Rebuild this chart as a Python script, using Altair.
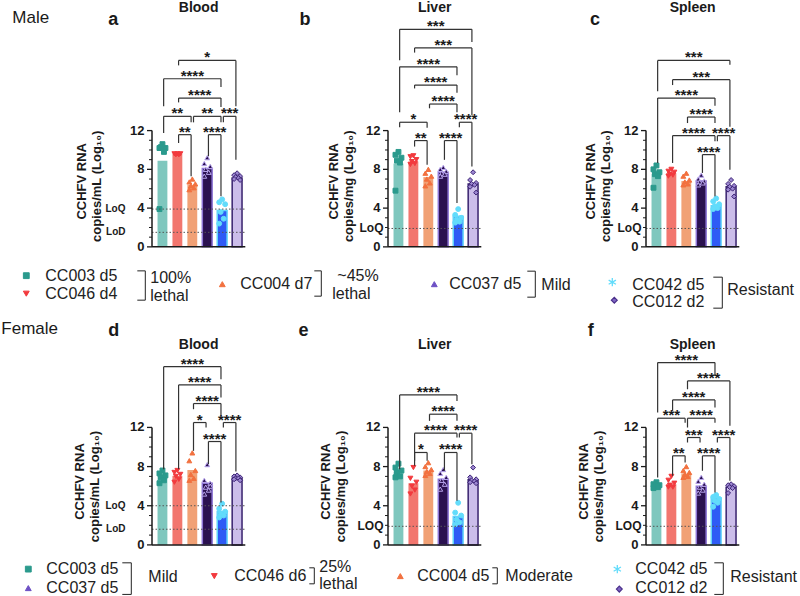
import altair as alt
import pandas as pd

FONT = "Liberation Sans"
INK = "#1a1a1a"

# ---------------- strains, in bar order ----------------
strains = ["CC003", "CC046", "CC004", "CC037", "CC042", "CC012"]
bar_fill = ["#7fc7be", "#f2766e", "#f1a175", "#2a1150", "#2e5bf5", "#cbbdea"]
bar_edge = ["#7fc7be", "#f2766e", "#f1a175", "#8e76d6", "#62d4fa", "#38226e"]
bar_sw = [0, 0, 0, 1.5, 1.5, 1.5]
pt_fill = ["#2b9a8d", "#f23a3e", "#f2713f", "#2a1150", "#62dcfb", "#9b86d0"]
pt_edge = ["#2b9a8d", "#f23a3e", "#f2713f", "#b9a6ee", "#62dcfb", "#3d2476"]
pt_shape = ["square", "triangle-down", "triangle-up", "triangle-up", "circle", "diamond"]
ASTERISK = "M0,-1L0,1M-0.87,-0.5L0.87,0.5M-0.87,0.5L0.87,-0.5"

# ---------------- group means (log10 copies) ----------------
mean_a = [8.9, 9.6, 6.4, 8.1, 3.75, 7.1]
mean_b = [8.6, 8.8, 7.2, 7.7, 3.15, 6.5]
mean_c = [7.55, 7.6, 6.8, 6.8, 4.25, 6.2]
mean_d = [7.05, 7.05, 7.65, 6.3, 3.4, 6.8]
mean_e = [7.5, 6.3, 7.6, 6.7, 2.9, 6.65]
mean_f = [6.0, 6.2, 7.3, 6.0, 4.8, 5.9]

# ---------------- individual animals ----------------
pts_a = [[10.6, 10.2, 10.2, 10.3, 9.8, 3.9], [9.6, 9.6, 9.6, 9.5, 9.5],
         [7.0, 6.7, 6.5, 6.3, 6.1, 5.9], [9.2, 8.6, 8.3, 8.0, 7.7, 7.3],
         [4.9, 4.6, 4.4, 3.6, 2.9, 2.4], [7.6, 7.4, 7.3, 7.2, 7.1, 7.0, 6.9]]
pts_b = [[9.8, 9.5, 9.2, 8.9, 8.7, 5.8], [9.4, 9.3, 9.0, 8.8, 8.6, 8.5],
         [8.0, 7.6, 7.3, 7.0, 6.6, 6.3], [8.2, 8.0, 7.8, 7.6, 7.5, 7.3],
         [3.9, 3.3, 3.0, 2.8, 2.6, 2.5], [7.7, 6.9, 6.6, 6.5, 6.4, 6.2, 5.6]]
pts_c = [[8.4, 8.0, 7.7, 7.5, 7.3, 6.1], [8.0, 7.8, 7.7, 7.5, 7.4, 7.3],
         [7.6, 7.3, 6.9, 6.7, 6.5, 6.4], [7.4, 7.0, 6.8, 6.7, 6.6, 6.4],
         [5.0, 4.7, 4.4, 4.2, 4.0, 3.9], [6.9, 6.5, 6.3, 6.2, 6.0, 5.9, 5.2]]
pts_d = [[7.6, 7.3, 7.1, 6.9, 6.6, 6.3], [7.6, 7.4, 7.2, 7.0, 6.7, 6.4],
         [9.4, 8.6, 7.6, 7.2, 6.8, 6.6], [8.2, 6.6, 6.3, 5.9, 5.6, 5.2, 6.0],
         [4.2, 3.7, 3.4, 3.2, 3.0, 2.8], [7.1, 7.0, 6.9, 6.8, 6.8, 6.7, 6.6]]
pts_e = [[8.3, 7.9, 7.6, 7.4, 7.0, 6.9], [7.9, 6.8, 6.4, 6.0, 5.6, 5.2],
         [8.4, 8.0, 7.7, 7.5, 7.3, 7.1], [7.7, 7.3, 6.9, 6.6, 6.2, 5.7],
         [4.3, 3.3, 3.0, 2.6, 2.3, 2.1], [7.9, 6.9, 6.7, 6.6, 6.5, 6.4, 6.3]]
pts_f = [[6.4, 6.2, 6.1, 6.0, 5.9, 5.8], [7.0, 6.6, 6.3, 6.1, 5.9, 5.9],
         [8.0, 7.6, 7.4, 7.2, 7.0, 6.9], [6.9, 6.5, 6.2, 5.9, 5.6, 5.3],
         [5.1, 4.9, 4.7, 4.5, 4.3, 3.9], [6.2, 6.1, 6.0, 5.9, 5.8, 5.3]]

# ---------------- significance brackets ----------------
# (from group, to group, bar height, left leg end, right leg end, label)
br_a = [(1, 5, 19.24, 18.73, 14.50, "*"), (0, 4, 17.35, 14.50, 16.49, "****"),
        (1, 4, 15.36, 14.91, 14.43, "****"), (0, 2, 13.47, 11.75, 12.85, "**"),
        (2, 4, 13.47, 12.85, 12.85, "**"), (4, 5, 13.47, 12.85, 9.0, "***"),
        (1, 2, 11.58, 10.72, 7.29, "**"), (3, 4, 11.58, 9.35, 5.22, "****")]
br_b = [(0, 5, 22.45, 19.27, 21.15, "***"), (1, 5, 20.53, 20.05, 13.61, "***"),
        (0, 4, 18.58, 13.90, 17.72, "****"), (1, 4, 16.70, 16.35, 15.90, "****"),
        (2, 4, 14.74, 14.30, 13.90, "****"), (0, 2, 12.86, 12.34, 12.30, "*"),
        (4, 5, 12.86, 12.34, 8.30, "****"), (1, 2, 10.97, 10.35, 8.47, "**"),
        (3, 4, 10.97, 8.98, 4.53, "****")]
br_c = [(0, 5, 19.24, 16.05, 18.80, "***"), (1, 5, 17.25, 16.70, 12.40, "***"),
        (0, 4, 15.36, 8.66, 14.57, "****"), (2, 4, 13.40, 12.78, 12.78, "****"),
        (1, 4, 11.48, 8.66, 10.90, "****"), (4, 5, 11.48, 10.90, 7.97, "****"),
        (3, 4, 9.52, 7.63, 5.22, "****")]
br_d = [(0, 4, 18.21, 7.74, 16.92, "****"), (1, 4, 16.34, 7.74, 15.05, "****"),
        (2, 4, 14.44, 13.86, 13.18, "****"), (2, 3, 12.50, 9.61, 11.99, "*"),
        (4, 5, 12.50, 11.99, 7.50, "****"), (3, 4, 10.56, 8.25, 4.34, "****")]
br_e = [(0, 4, 15.32, 7.74, 14.71, "****"), (2, 4, 13.35, 12.67, 12.67, "****"),
        (1, 4, 11.41, 8.08, 10.97, "****"), (4, 5, 11.41, 10.97, 8.25, "****"),
        (1, 2, 9.44, 8.59, 8.59, "*"), (3, 4, 9.44, 7.57, 4.51, "****")]
br_f = [(0, 4, 18.62, 13.52, 17.26, "****"), (2, 5, 16.75, 15.90, 12.16, "****"),
        (1, 4, 14.81, 13.69, 14.03, "****"), (0, 2, 12.94, 6.88, 12.48, "***"),
        (2, 4, 12.94, 11.99, 12.48, "****"), (2, 3, 10.97, 10.46, 10.46, "***"),
        (4, 5, 10.97, 10.46, 6.55, "****"), (1, 2, 9.10, 7.06, 8.42, "**"),
        (3, 4, 9.10, 7.57, 5.36, "****")]

# ---------------- y-axis ticks ----------------
MAJOR = [0, 4, 8, 12]
MAJOR_LABELS = ["0", "4", "8", "12"]
MINOR = [1, 2, 3, 5, 6, 7, 9, 10, 11]

# ---------------- layout ----------------
XPX = 14.93                  # px per bar step
X0 = -0.7                    # plot left edge, in bar steps
AXIS_LEN = 93.3              # drawn x-axis length, px
COL_W = [135.8, 157.5, 93.3]
COL_GAP = 100
ROW_PX = [9.69, 9.79]        # px per log10 unit
ROW_TOP = [23.0, 19.5]
BELOW = 1.5                  # room kept under zero inside each panel
ROW_GAP = [106, 52]          # px from zero line to next row / bottom edge
JIT = [0.0, -0.2, 0.2, -0.1, 0.1, -0.2, 0.2]
INSET = 0.08
ONE = pd.DataFrame({"k": [0]})

panels = [
    dict(col=0, row=0, title="Blood", unit="copies/mL", mean=mean_a, pts=pts_a, br=br_a,
         lims=[(3.9, "LoQ"), (1.5, "LoD")], lim_x=-26.5, lim_fs=10,
         letter=("a", -43.7), sex=("Male", -139.7, -1.4), ytx=(-70.2, -54.7)),
    dict(col=1, row=0, title="Liver", unit="copies/mg", mean=mean_b, pts=pts_b, br=br_b,
         lims=[(1.9, "LoQ")], lim_x=-4.5, lim_fs=12,
         letter=("b", -88.5), sex=None, ytx=(-54.2, -39.2)),
    dict(col=2, row=0, title="Spleen", unit="copies/mg", mean=mean_c, pts=pts_c, br=br_c,
         lims=[(1.9, "LoQ")], lim_x=-4.5, lim_fs=12,
         letter=("c", -56.0), sex=None, ytx=(-55.0, -40.0)),
    dict(col=0, row=1, title="Blood", unit="copies/mL", mean=mean_d, pts=pts_d, br=br_d,
         lims=[(4.0, "LoQ"), (1.6, "LoD")], lim_x=-26.5, lim_fs=10,
         letter=("d", -43.7), sex=("Female", -150.7, -20.3), ytx=(-71.7, -56.7)),
    dict(col=1, row=1, title="Liver", unit="copies/mg", mean=mean_e, pts=pts_e, br=br_e,
         lims=[(1.9, "LOQ")], lim_x=-4.5, lim_fs=12,
         letter=("e", -89.5), sex=None, ytx=(-62.0, -47.0)),
    dict(col=2, row=1, title="Spleen", unit="copies/mg", mean=mean_f, pts=pts_f, br=br_f,
         lims=[(1.9, "LOQ")], lim_x=-4.5, lim_fs=12,
         letter=("f", -58.3), sex=None, ytx=(-61.7, -46.7)),
]
ROW_TEXT = [dict(title_y=-11.9, letter_y=1.0, yty=(157.3, 162.3)),
            dict(title_y=-5.3, letter_y=-18.3, yty=(127.5, 132.5))]


def note(text, x, y, size, weight="normal", align="left", angle=0, baseline="alphabetic"):
    return alt.Chart(ONE).mark_text(
        text=text, font=FONT, fontSize=size, fontWeight=weight, align=align,
        baseline=baseline, angle=angle, color=INK
    ).encode(x=alt.value(x), y=alt.value(y))


def panel(p):
    col, row = p["col"], p["row"]
    W = COL_W[col]
    H = (ROW_TOP[row] + BELOW) * ROW_PX[row]
    rt = ROW_TEXT[row]
    xs = alt.Scale(domain=[X0, X0 + W / XPX], nice=False, zero=False)
    ys = alt.Scale(domain=[-BELOW, ROW_TOP[row]], nice=False, zero=False)
    xend = X0 + AXIS_LEN / XPX

    def X(f):
        return alt.X(f"{f}:Q", scale=xs, axis=None)

    def Y(f):
        return alt.Y(f"{f}:Q", scale=ys, axis=None)

    bdf = pd.DataFrame({"i": range(6), "m": p["mean"], "fill": bar_fill,
                        "edge": bar_edge, "sw": bar_sw})
    bdf["lo"] = bdf["i"] - 0.33
    bdf["hi"] = bdf["i"] + 0.33
    bdf["z"] = 0.0
    bars = alt.Chart(bdf).mark_rect().encode(
        x=X("lo"), x2="hi", y=Y("m"), y2="z",
        fill=alt.Fill("fill:N", scale=None), stroke=alt.Stroke("edge:N", scale=None),
        strokeWidth=alt.StrokeWidth("sw:Q", scale=None),
    )

    prow = []
    for i, vals in enumerate(p["pts"]):
        for k, v in enumerate(vals):
            prow.append({"x": i + JIT[k % len(JIT)], "v": v, "shape": pt_shape[i],
                         "fill": pt_fill[i], "edge": pt_edge[i]})
    dots = alt.Chart(pd.DataFrame(prow)).mark_point(filled=True, size=24, strokeWidth=1, opacity=1).encode(
        x=X("x"), y=Y("v"), shape=alt.Shape("shape:N", scale=None),
        fill=alt.Fill("fill:N", scale=None), stroke=alt.Stroke("edge:N", scale=None),
    )

    frame = alt.Chart(pd.DataFrame([
        {"x": X0, "x2": X0, "y": 0.0, "y2": 12.0},
        {"x": X0, "x2": xend, "y": 0.0, "y2": 0.0},
    ])).mark_rule(color=INK, strokeWidth=1.5).encode(x=X("x"), x2="x2", y=Y("y"), y2="y2")

    # y ticks: long labelled ones every 4 units, short ones in between
    tick_df = pd.DataFrame(
        [{"y": v, "x": X0 - 5 / XPX, "x2": X0, "w": 1.3} for v in MAJOR]
        + [{"y": v, "x": X0 - 3 / XPX, "x2": X0, "w": 1.0} for v in MINOR])
    ticks = alt.Chart(tick_df).mark_rule(color=INK).encode(
        x=X("x"), x2="x2", y=Y("y"), strokeWidth=alt.StrokeWidth("w:Q", scale=None))
    tick_labels = alt.Chart(pd.DataFrame({"y": MAJOR, "t": MAJOR_LABELS})).mark_text(
        font=FONT, fontSize=13, fontWeight="bold", align="right", baseline="middle", color=INK
    ).encode(x=alt.value(-7.5), y=Y("y"), text="t:N")

    ldf = pd.DataFrame([{"x": X0, "x2": xend, "y": v, "t": t} for v, t in p["lims"]])
    lim_lines = alt.Chart(ldf).mark_rule(color="#555", strokeWidth=1, strokeDash=[1.5, 2]).encode(
        x=X("x"), x2="x2", y=Y("y"))
    lim_text = alt.Chart(ldf).mark_text(
        font=FONT, fontSize=p["lim_fs"], fontWeight="bold", align="right", baseline="middle", color=INK
    ).encode(x=alt.value(p["lim_x"]), y=Y("y"), text="t:N")

    hrows, vrows, trows = [], [], []
    for i, j, lv, lb, rb, lab in p["br"]:
        a, b = i + INSET, j - INSET
        hrows.append({"x": a, "x2": b, "y": lv})
        vrows.append({"x": a, "y": lv, "y2": lb})
        vrows.append({"x": b, "y": lv, "y2": rb})
        trows.append({"x": (i + j) / 2, "y": lv, "t": lab})
    h_rules = alt.Chart(pd.DataFrame(hrows)).mark_rule(color="#333", strokeWidth=1.2).encode(
        x=X("x"), x2="x2", y=Y("y"))
    v_rules = alt.Chart(pd.DataFrame(vrows)).mark_rule(color="#333", strokeWidth=1.2).encode(
        x=X("x"), y=Y("y"), y2="y2")
    stars = alt.Chart(pd.DataFrame(trows)).mark_text(
        font=FONT, fontSize=15, fontWeight="bold", baseline="alphabetic", dy=2, color=INK
    ).encode(x=X("x"), y=Y("y"), text="t:N")

    texts = [
        note(p["title"], AXIS_LEN / 2, rt["title_y"], 14, "bold", "center"),
        note(p["letter"][0], p["letter"][1], rt["letter_y"], 18, "bold"),
        note("CCHFV RNA", p["ytx"][0], rt["yty"][0], 13, "bold", "center", 270, "middle"),
        note(f"{p['unit']} (Log\u2081\u2080)", p["ytx"][1], rt["yty"][1], 13, "bold", "center", 270, "middle"),
    ]
    if p["sex"]:
        texts.append(note(p["sex"][0], p["sex"][1], p["sex"][2], 17))

    return alt.layer(bars, dots, lim_lines, lim_text, frame, ticks, tick_labels,
                     h_rules, v_rules, stars, *texts).properties(width=W, height=H)


# ---------------- legends (positions measured from the zero line above) ----------------
sym1 = [(-125.7, 28.2, "square", "#2b9a8d", "#2b9a8d", 1), (-125.7, 46.2, "triangle-down", "#f23a3e", "#f23a3e", 1),
        (70.3, 36.7, "triangle-up", "#f2713f", "#f2713f", 1), (282.3, 36.7, "triangle-up", "#6d50c4", "#6d50c4", 1),
        (460.3, 34.7, ASTERISK, "#62dcfb", "#62dcfb", 1.3), (462.3, 52.7, "diamond", "#7f66c4", "#4a2f8a", 1.2)]
txt1 = [(-106.7, 28.2, "CC003 d5"), (-106.7, 46.2, "CC046 d4"), (-1.7, 30.7, "100%"), (-1.7, 48.2, "lethal"),
        (88.3, 36.7, "CC004 d7"), (185.3, 28.7, "~45%"), (180.3, 46.2, "lethal"),
        (297.3, 36.7, "CC037 d5"), (389.3, 37.7, "Mild"),
        (480.3, 37.2, "CC042 d5"), (480.3, 54.7, "CC012 d2"), (575.3, 42.7, "Resistant")]
brk1 = [(-14.7, -6.7, 23.4, 52.7), (162.3, 169.3, 23.4, 48.7), (375.3, 383.3, 23.7, 49.7), (561.3, 570.3, 29.7, 60.7)]

sym2 = [(-123.7, 23.8, "square", "#2b9a8d", "#2b9a8d", 1), (-123.7, 42.8, "triangle-up", "#6d50c4", "#6d50c4", 1),
        (62.3, 30.8, "triangle-down", "#f23a3e", "#f23a3e", 1), (248.3, 30.8, "triangle-up", "#f2713f", "#f2713f", 1),
        (465.3, 23.8, ASTERISK, "#62dcfb", "#62dcfb", 1.3), (467.3, 43.8, "diamond", "#7f66c4", "#4a2f8a", 1.2)]
txt2 = [(-105.7, 23.8, "CC003 d5"), (-105.7, 42.8, "CC037 d5"), (-3.7, 31.8, "Mild"),
        (82.3, 30.8, "CC046 d6"), (167.3, 21.8, "25%"), (167.3, 38.8, "lethal"),
        (265.3, 30.8, "CC004 d5"), (353.3, 30.8, "Moderate"),
        (483.3, 23.8, "CC042 d5"), (483.3, 42.8, "CC012 d2"), (578.3, 31.8, "Resistant")]
brk2 = [(-29.7, -20.7, 17.5, 49.1), (157.3, 162.3, 22.5, 38.5), (340.3, 345.3, 22.5, 38.5), (562.3, 571.3, 17.5, 49.1)]


def legend(sym, txt, brk, row):
    lift = BELOW * ROW_PX[row]          # the cell starts this far below the zero line
    h = ROW_GAP[row] - lift
    px = lambda f: alt.X(f"{f}:Q", scale=None, axis=None)
    py = lambda f: alt.Y(f"{f}:Q", scale=None, axis=None)
    sdf = pd.DataFrame(sym, columns=["x", "y", "shape", "fill", "edge", "sw"])
    sdf["y"] = sdf["y"] - lift
    sdf["size"] = [70 if s == ASTERISK else 34 for s in sdf["shape"]]
    tdf = pd.DataFrame(txt, columns=["x", "y", "t"])
    tdf["y"] = tdf["y"] - lift
    rows = []
    for xl, xv, yt, yb in brk:
        yt, yb = yt - lift, yb - lift
        rows += [{"x": xl, "x2": xv, "y": yt, "y2": yt},
                 {"x": xv, "x2": xv, "y": yt, "y2": yb},
                 {"x": xl, "x2": xv, "y": yb, "y2": yb}]
    marks = alt.Chart(sdf).mark_point(filled=True, opacity=1).encode(
        x=px("x"), y=py("y"), shape=alt.Shape("shape:N", scale=None),
        size=alt.Size("size:Q", scale=None),
        fill=alt.Fill("fill:N", scale=None), stroke=alt.Stroke("edge:N", scale=None),
        strokeWidth=alt.StrokeWidth("sw:Q", scale=None))
    words = alt.Chart(tdf).mark_text(font=FONT, fontSize=16, align="left", baseline="middle", color="#222").encode(
        x=px("x"), y=py("y"), text="t:N")
    lines = alt.Chart(pd.DataFrame(rows)).mark_rule(color="#222", strokeWidth=1).encode(
        x=px("x"), x2="x2", y=py("y"), y2="y2")
    return alt.layer(lines, marks, words).properties(width=COL_W[0], height=h)


def blank(w, row):
    h = ROW_GAP[row] - BELOW * ROW_PX[row]
    return alt.Chart(ONE).mark_point(opacity=0).encode(x=alt.value(0), y=alt.value(0)).properties(width=w, height=h)


cells = [panel(panels[0]), panel(panels[1]), panel(panels[2]),
         legend(sym1, txt1, brk1, 0), blank(COL_W[1], 0), blank(COL_W[2], 0),
         panel(panels[3]), panel(panels[4]), panel(panels[5]),
         legend(sym2, txt2, brk2, 1), blank(COL_W[1], 1), blank(COL_W[2], 1)]

chart = alt.concat(
    *cells, columns=3, spacing={"row": 0, "column": COL_GAP}, bounds="flush", align="each"
).properties(
    padding={"left": 1, "top": 1, "right": 2, "bottom": 0}, background="white"
).configure_view(stroke=None, fill="transparent")

chart.save("out.html", embed_options={"renderer": "svg", "actions": False})
